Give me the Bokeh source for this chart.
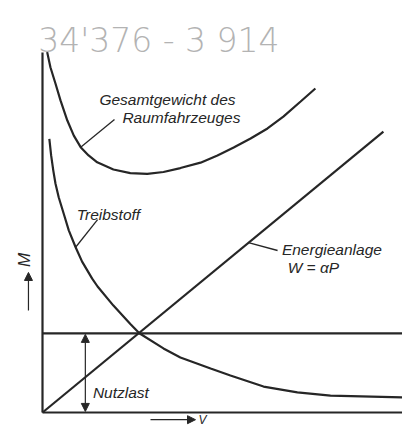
from bokeh.plotting import figure
from bokeh.models import Range1d, Arrow, NormalHead, Label
from bokeh.embed import file_html
from bokeh.resources import INLINE

# ---- data (v in arbitrary units, M in arbitrary units) ----
nutzlast = 2.2
energie_v = [0.0, 9.47]
energie_m = [0.0, 7.8]
treib_v = [0.19, 0.24, 0.30, 0.36, 0.45, 0.59, 0.73, 0.92, 1.10, 1.38, 1.53, 1.97, 2.44,
           2.69, 3.36, 3.83, 4.67, 5.22, 6.14, 7.08, 8.0, 10.0]
treib_m = [7.60, 7.14, 6.72, 6.36, 5.98, 5.52, 5.06, 4.59, 4.19, 3.72, 3.50, 2.97, 2.46,
           2.20, 1.78, 1.53, 1.22, 1.03, 0.72, 0.56, 0.47, 0.42]
gesamt_v = [0.13, 0.22, 0.36, 0.50, 0.69, 0.87, 1.06, 1.28, 1.52, 1.97, 2.44, 2.91, 3.36,
            3.83, 4.39, 4.86, 5.31, 5.78, 6.25, 6.69, 7.17, 7.58]
gesamt_m = [10.01, 9.59, 9.14, 8.67, 8.11, 7.69, 7.37, 7.14, 6.95, 6.75, 6.65, 6.63, 6.68,
            6.79, 6.94, 7.14, 7.36, 7.61, 7.89, 8.22, 8.64, 9.0]
axis_v_max = 10.0
axis_m_max = 10.0

labels = ["Gesamtgewicht des", "Raumfahrzeuges", "Treibstoff", "Energieanlage", "W = αP", "Nutzlast"]
axis_x_label = "V"
axis_y_label = "M"
note = "34'376 - 3 914"

# ---- figure ----
W, H = 402, 430
PX = 36.0          # pixels per unit
OX, OY = 42, 412   # origin position in pixels (from top-left)
p = figure(width=W, height=H,
           x_range=Range1d(-OX / PX, (W - OX) / PX),
           y_range=Range1d(-(H - OY) / PX, OY / PX),
           output_backend="svg", toolbar_location=None,
           x_axis_location=None, y_axis_location=None,
           min_border=0, outline_line_color=None,
           background_fill_color="white", border_fill_color="white")
p.grid.visible = False

INK = "#262626"
LW = 2.2

# axes
p.line([0, 0], [0, axis_m_max], line_color=INK, line_width=LW)
p.line([0, axis_v_max + 0.2], [0, 0], line_color=INK, line_width=LW)
# Nutzlast level
p.line([0, axis_v_max + 0.2], [nutzlast, nutzlast], line_color=INK, line_width=LW)
# curves
p.line(energie_v, energie_m, line_color=INK, line_width=LW)
p.line(treib_v, treib_m, line_color=INK, line_width=LW)
p.line(gesamt_v, gesamt_m, line_color=INK, line_width=LW)

# leader lines
LL = 1.3
p.line([1.06, 2.0], [7.37, 8.14], line_color=INK, line_width=LL)
p.line([0.92, 1.53], [4.59, 5.36], line_color=INK, line_width=LL)
p.line([5.72, 6.53], [4.72, 4.5], line_color=INK, line_width=LL)

def head():
    return NormalHead(size=8, fill_color=INK, line_color=INK, line_width=1)

# Nutzlast double arrow
p.add_layout(Arrow(start=head(), end=head(), x_start=1.19, y_start=0.03,
                   x_end=1.19, y_end=nutzlast - 0.03, line_color=INK, line_width=1.2))
# M arrow
p.add_layout(Arrow(end=head(), x_start=-0.39, y_start=2.83, x_end=-0.39, y_end=3.89,
                   line_color=INK, line_width=1.2))
# V arrow
p.add_layout(Arrow(end=head(), x_start=3.0, y_start=-0.2, x_end=4.25, y_end=-0.2,
                   line_color=INK, line_width=1.2))

FONT = "Liberation Sans"
FS = "15.5px"
def lab(x, y, t, size=FS, **kw):
    p.add_layout(Label(x=x, y=y, text=t, text_font=kw.pop("font", FONT), text_font_size=size,
                       text_font_style=kw.pop("style", "italic"),
                       text_color=kw.pop("color", INK),
                       text_baseline=kw.pop("baseline", "alphabetic"),
                       text_align=kw.pop("align", "left"), **kw))

lab(1.58, 8.69, labels[0])
lab(2.22, 8.19, labels[1])
lab(0.95, 5.50, labels[2])
lab(6.65, 4.53, labels[3])
lab(6.81, 4.03, labels[4])
lab(1.40, 0.56, labels[5])
lab(4.33, -0.2, axis_x_label, size="12px", baseline="middle")
lab(-0.5, 4.24, axis_y_label, size="17px", angle=1.5708, baseline="middle", align="center")
lab(-0.12, 10.33, note, size="33px", style="normal", color="#b3b3b3",
    font="'DejaVu Sans Light', 'Liberation Sans'")

open("out.html", "w").write(file_html(p, INLINE))
